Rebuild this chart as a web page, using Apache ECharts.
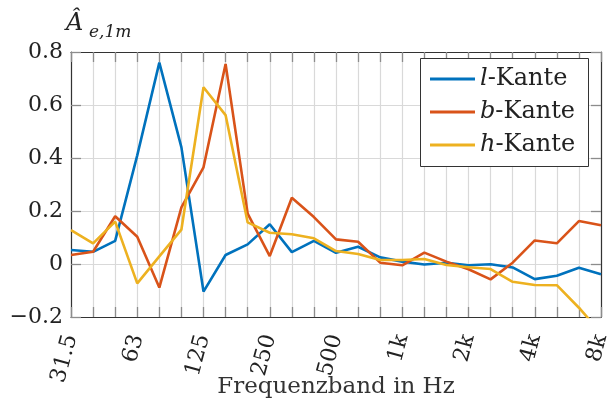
<!DOCTYPE html>
<html><head><meta charset="utf-8">
<script src="https://cdn.jsdelivr.net/npm/echarts@6/dist/echarts.min.js"></script>
<style>html,body{margin:0;padding:0;background:#fff}#c{width:615px;height:402px}</style>
</head><body><div id="c"></div>
<script>
const categories = ['31.5','40','50','63','80','100','125','160','200','250','315','400','500','630','800','1k','1.25k','1.6k','2k','2.5k','3.15k','4k','5k','6.3k','8k'];
const lKante = [0.053,0.046,0.087,0.41,0.76,0.44,-0.104,0.034,0.074,0.15,0.045,0.087,0.042,0.065,0.025,0.009,-0.002,0.005,-0.005,-0.001,-0.013,-0.057,-0.044,-0.014,-0.039];
const bKante = [0.034,0.046,0.18,0.103,-0.089,0.214,0.365,0.755,0.19,0.03,0.25,0.177,0.093,0.084,0.005,-0.005,0.043,0.009,-0.02,-0.058,0.005,0.089,0.078,0.162,0.146];
const hKante = [0.128,0.078,0.16,-0.073,0.029,0.13,0.667,0.562,0.157,0.118,0.112,0.097,0.049,0.038,0.015,0.015,0.019,-0.004,-0.012,-0.019,-0.067,-0.079,-0.08,-0.165,-0.26];
const yTicks = {min:-0.2, max:0.8, step:0.2};
const seriesNames = ['l','b','h'];
const colors = ['#0072BD','#D95319','#EDB120'];

const FONT = 'DejaVu Serif';
const chart = echarts.init(document.getElementById('c'));
const tickStyle = {show:true, inside:true, length:10, interval:0, lineStyle:{color:'#8c8c8c', width:1.3}};
const axLine = {show:true, onZero:false, lineStyle:{color:'#333', width:1.2}};
const fmtY = v => { const r = Math.round(v*10)/10; if (r === 0) return '0'; return r < 0 ? '\u2212' + Math.abs(r).toFixed(1) : r.toFixed(1); };
chart.setOption({
  animation:false,
  grid:{left:71, right:14, top:52, bottom:85, containLabel:false, outerBoundsMode:'none'},
  graphic:[
    {type:'text', left:66, top:12, style:{text:'Â', font:'italic 24px "'+FONT+'"', fill:'#222'}},
    {type:'text', left:89, top:24, style:{text:'e,1m', font:'italic 17px "'+FONT+'"', fill:'#222'}},
    {type:'rect', shape:{x:420.5, y:58.5, width:168, height:108}, style:{fill:'#fff', stroke:'#333', lineWidth:1}, z:5}
  ],
  legend:{
    orient:'vertical', left:420, top:58, z:10,
    padding:[9,10,9,10],
    itemGap:9, itemWidth:45, itemHeight:3, icon:'rect',
    textStyle:{fontFamily:FONT, fontSize:24, color:'#222', lineHeight:24,
      rich:{i:{fontStyle:'italic', fontFamily:FONT, fontSize:24, color:'#222'}, n:{fontFamily:FONT, fontSize:24, color:'#222'}}},
    formatter: name => '{i|' + name.split('-')[0] + '}{n|-Kante}',
    data: seriesNames.map(n => n + '-Kante')
  },
  xAxis:[{
    type:'category', data:categories, boundaryGap:false,
    axisLine:axLine, axisTick:tickStyle,
    splitLine:{show:true, interval:0, lineStyle:{color:'#d9d9d9', width:1.2}},
    axisLabel:{interval:2, rotate:75, margin:18, fontFamily:FONT, fontSize:22, color:'#222'},
    name:'Frequenzband in Hz', nameLocation:'middle', nameGap:59, nameMoveOverlap:false,
    nameTextStyle:{fontFamily:FONT, fontSize:23, color:'#333'}
  },{
    type:'category', data:categories, boundaryGap:false, position:'top',
    axisLine:axLine, axisTick:tickStyle, axisLabel:{show:false}, splitLine:{show:false}
  }],
  yAxis:[{
    type:'value', min:yTicks.min, max:yTicks.max, interval:yTicks.step,
    axisLine:axLine, axisTick:{...tickStyle},
    splitLine:{show:true, lineStyle:{color:'#d9d9d9', width:1.2}},
    axisLabel:{formatter:fmtY, fontFamily:FONT, fontSize:22, color:'#222', margin:8}
  },{
    type:'value', min:yTicks.min, max:yTicks.max, interval:yTicks.step, position:'right',
    axisLine:axLine, axisTick:{...tickStyle}, axisLabel:{show:false}, splitLine:{show:false}
  }],
  series:[lKante,bKante,hKante].map((d,i) => ({
    name: seriesNames[i] + '-Kante', type:'line', data:d, showSymbol:false, symbol:'none',
    clip:true, lineStyle:{color:colors[i], width:2.6}, itemStyle:{color:colors[i]}, z:3+i
  }))
});
</script></body></html>
